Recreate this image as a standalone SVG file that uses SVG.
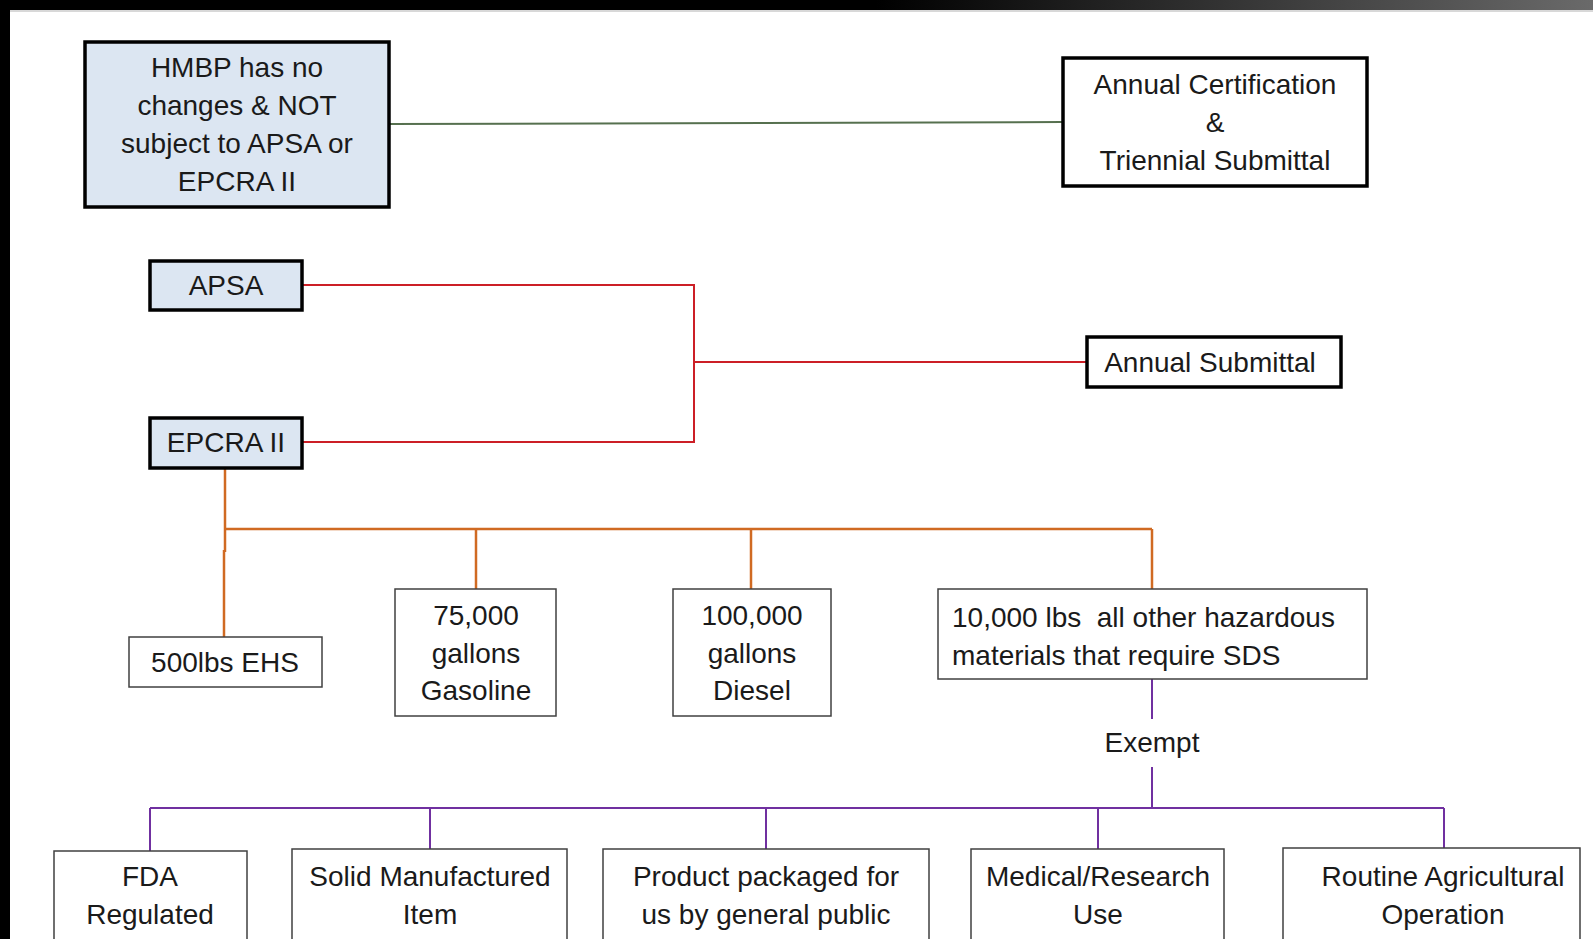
<svg xmlns="http://www.w3.org/2000/svg" width="1593" height="939" viewBox="0 0 1593 939">
<defs>
<linearGradient id="topbar" x1="0" y1="0" x2="1" y2="0">
<stop offset="0" stop-color="#000"/>
<stop offset="0.55" stop-color="#000"/>
<stop offset="1" stop-color="#6a6a6a"/>
</linearGradient>
<style>
text{font-family:"Liberation Sans",Arial,sans-serif;font-size:28px;fill:#1a1a1a;text-anchor:middle}
.start{text-anchor:start;white-space:pre}
.thick{stroke:#000;stroke-width:3.5;fill:#fff}
.blue{fill:#dce6f2}
.thin{stroke:#404040;stroke-width:1.5;fill:#fff}
.green{stroke:#56704f;stroke-width:2;fill:none}
.red{stroke:#cc1f26;stroke-width:2;fill:none}
.orange{stroke:#d06a22;stroke-width:2.5;fill:none}
.purple{stroke:#7030a0;stroke-width:2;fill:none}
</style>
</defs>
<rect width="1593" height="939" fill="#fff"/>
<rect x="0" y="0" width="1593" height="10" fill="url(#topbar)"/>
<rect x="0" y="10" width="1593" height="2" fill="#d8d8d8"/>
<rect x="0" y="0" width="10" height="939" fill="#000"/>

<g id="connectors">
<line class="green" x1="389" y1="124" x2="1062" y2="122"/>
<polyline class="red" points="302,285 694,285 694,442 302,442"/>
<line class="red" x1="694" y1="362" x2="1087" y2="362"/>
<polyline class="orange" points="225,468 225,552"/>
<polyline class="orange" points="224,550 224,637"/>
<line class="orange" x1="225" y1="529" x2="1152" y2="529"/>
<line class="orange" x1="476" y1="529" x2="476" y2="589"/>
<line class="orange" x1="751" y1="529" x2="751" y2="589"/>
<line class="orange" x1="1152" y1="529" x2="1152" y2="589"/>
<line class="purple" x1="1152" y1="679" x2="1152" y2="719"/>
<line class="purple" x1="1152" y1="767" x2="1152" y2="808"/>
<line class="purple" x1="150" y1="808" x2="1444" y2="808"/>
<line class="purple" x1="150" y1="808" x2="150" y2="851"/>
<line class="purple" x1="430" y1="808" x2="430" y2="849"/>
<line class="purple" x1="766" y1="808" x2="766" y2="849"/>
<line class="purple" x1="1098" y1="808" x2="1098" y2="849"/>
<line class="purple" x1="1444" y1="808" x2="1444" y2="848"/>
<text x="1152" y="752">Exempt</text>
</g>

<g id="hmbp">
<rect class="thick blue" x="85" y="42" width="304" height="165"/>
<text x="237" y="77">HMBP has no</text>
<text x="237" y="115">changes &amp; NOT</text>
<text x="237" y="153">subject to APSA or</text>
<text x="237" y="191">EPCRA II</text>
</g>

<g id="annual-cert">
<rect class="thick" x="1063" y="58" width="304" height="128"/>
<text x="1215" y="94">Annual Certification</text>
<text x="1215" y="132">&amp;</text>
<text x="1215" y="170">Triennial Submittal</text>
</g>

<g id="apsa">
<rect class="thick blue" x="150" y="261" width="152" height="49"/>
<text x="226" y="295">APSA</text>
</g>

<g id="epcra">
<rect class="thick blue" x="150" y="418" width="152" height="50"/>
<text x="226" y="452">EPCRA II</text>
</g>

<g id="annual-sub">
<rect class="thick" x="1087" y="337" width="254" height="50"/>
<text x="1210" y="372">Annual Submittal</text>
</g>

<g id="ehs">
<rect class="thin" x="129" y="637" width="193" height="50"/>
<text x="225" y="672">500lbs EHS</text>
</g>

<g id="gasoline">
<rect class="thin" x="395" y="589" width="161" height="127"/>
<text x="476" y="625">75,000</text>
<text x="476" y="663">gallons</text>
<text x="476" y="700">Gasoline</text>
</g>

<g id="diesel">
<rect class="thin" x="673" y="589" width="158" height="127"/>
<text x="752" y="625">100,000</text>
<text x="752" y="663">gallons</text>
<text x="752" y="700">Diesel</text>
</g>

<g id="other">
<rect class="thin" x="938" y="589" width="429" height="90"/>
<text class="start" x="952" y="627">10,000 lbs  all other hazardous</text>
<text class="start" x="952" y="665">materials that require SDS</text>
</g>

<g id="fda">
<rect class="thin" x="54" y="851" width="193" height="100"/>
<text x="150" y="886">FDA</text>
<text x="150" y="924">Regulated</text>
</g>

<g id="solid">
<rect class="thin" x="292" y="849" width="275" height="100"/>
<text x="430" y="886">Solid Manufactured</text>
<text x="430" y="924">Item</text>
</g>

<g id="product">
<rect class="thin" x="603" y="849" width="326" height="100"/>
<text x="766" y="886">Product packaged for</text>
<text x="766" y="924">us by general public</text>
</g>

<g id="medical">
<rect class="thin" x="971" y="849" width="253" height="100"/>
<text x="1098" y="886">Medical/Research</text>
<text x="1098" y="924">Use</text>
</g>

<g id="routine">
<rect class="thin" x="1283" y="848" width="297" height="100"/>
<text x="1443" y="886">Routine Agricultural</text>
<text x="1443" y="924">Operation</text>
</g>
</svg>
